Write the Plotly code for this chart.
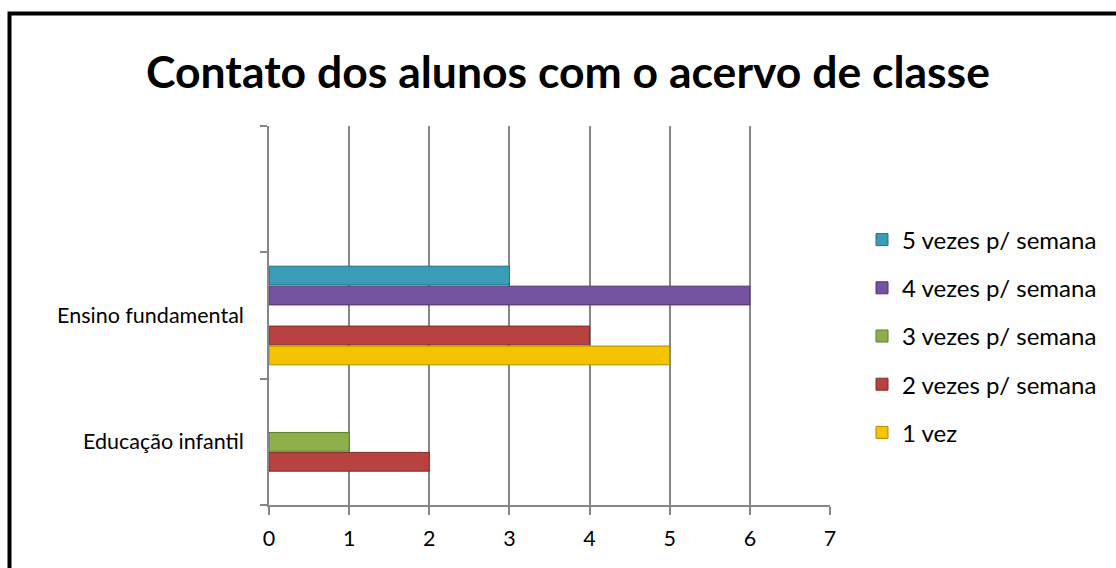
import plotly.graph_objects as go

categories = ["Educação infantil", "Ensino fundamental", " "]
series_names = ["1 vez", "2 vezes p/ semana", "3 vezes p/ semana", "4 vezes p/ semana", "5 vezes p/ semana"]
v_1vez = [None, 5, None]
v_2vezes = [2, 4, None]
v_3vezes = [1, None, None]
v_4vezes = [None, 6, None]
v_5vezes = [None, 3, None]
x_ticks = [0, 1, 2, 3, 4, 5, 6, 7]

colors = ["#F5C400", "#B8423F", "#8DB04A", "#7453A0", "#3A9DB8"]
line_colors = ["#B08A00", "#7E2A28", "#5E7A2E", "#4E3470", "#246E82"]
values = [v_1vez, v_2vezes, v_3vezes, v_4vezes, v_5vezes]

FONT = "Lato"
FS = 21.5
fig = go.Figure()
n = len(series_names)
for i, (name, vals, c, lc) in enumerate(zip(series_names, values, colors, line_colors)):
    fig.add_trace(go.Bar(
        y=categories, x=vals, name=name, orientation="h",
        marker=dict(color=c, line=dict(color=lc, width=1)),
        legendgroup=name, legendrank=n - i,
    ))

L, R, T, B = 269, 830, 126, 505
W, H = 1116, 568
pw, ph = R - L, B - T

def px(x):
    return (x - L) / pw

def py(y):
    return (B - y) / ph

fig.update_layout(
    width=W, height=H,
    margin=dict(l=L, r=W - R, t=T, b=H - B),
    paper_bgcolor="white", plot_bgcolor="white",
    barmode="group", bargap=0.21, bargroupgap=0.06,
    font=dict(family=FONT, size=FS, color="#000000"),
    title=dict(text="<b>Contato dos alunos com o acervo de classe</b>",
               x=568 / W, xanchor="center", y=1 - 72 / H, yanchor="middle",
               font=dict(family=FONT, size=44.5, color="#000000")),
    legend=dict(x=px(862), xanchor="left", y=py(336), yanchor="middle",
                traceorder="grouped", tracegroupgap=14,
                font=dict(family=FONT, size=24), itemwidth=30,
                bgcolor="rgba(0,0,0,0)"),
    xaxis=dict(range=[0, 7], tickvals=x_ticks, showgrid=True,
               gridcolor="#868686", gridwidth=1.5, zeroline=False,
               showline=True, linecolor="#868686", linewidth=1.5,
               ticks="outside", ticklen=8, tickcolor="#868686", tickwidth=1.5,
               tickfont=dict(family=FONT, size=FS), ticklabelstandoff=5,
               fixedrange=True),
    yaxis=dict(categoryorder="array", categoryarray=categories,
               showgrid=False, zeroline=False, showline=True,
               linecolor="#868686", linewidth=1.5,
               ticks="outside", tickson="boundaries", ticklen=7,
               tickcolor="#868686", tickwidth=1.5,
               tickfont=dict(family=FONT, size=FS), ticklabelstandoff=19),
    shapes=[dict(type="rect", xref="paper", yref="paper",
                 x0=px(9.5), x1=px(1160), y0=py(13.5), y1=py(620),
                 line=dict(color="#000000", width=4), fillcolor="rgba(0,0,0,0)",
                 layer="above")],
)

fig.write_html("out.html")
